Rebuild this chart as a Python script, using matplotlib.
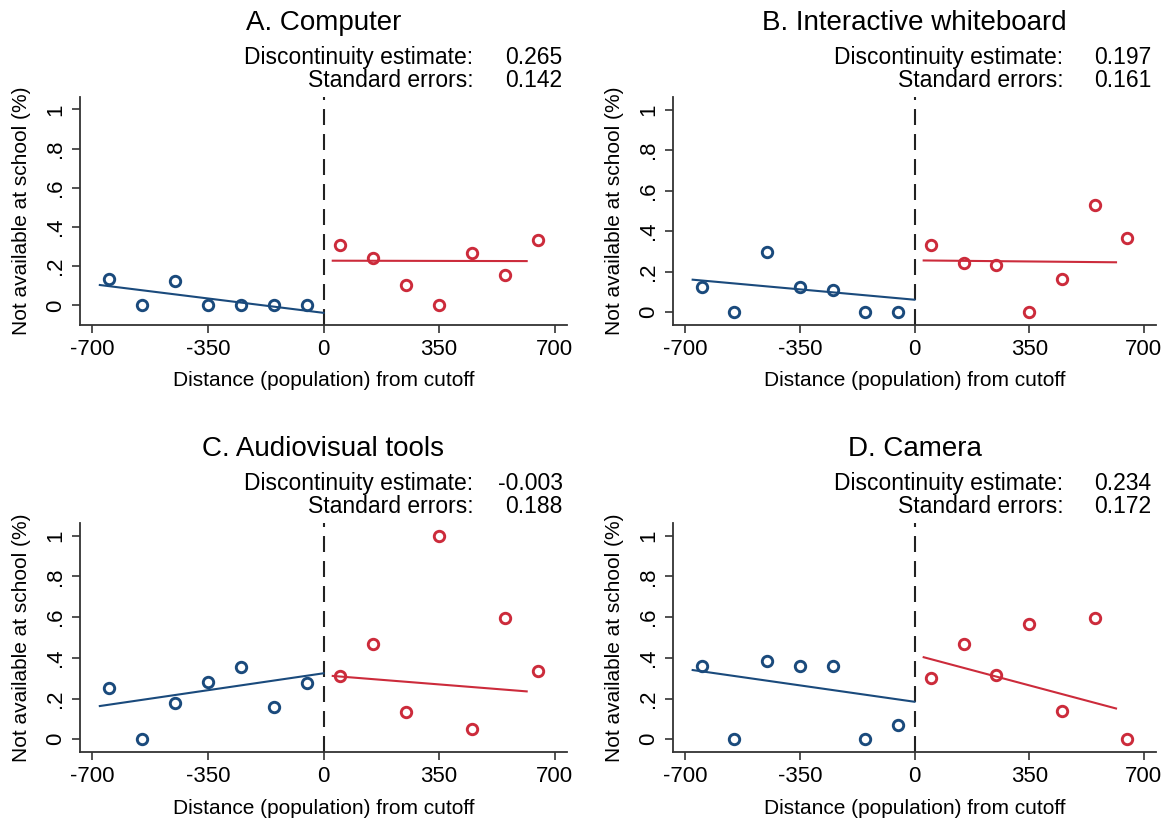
import matplotlib
matplotlib.use("Agg")
import matplotlib.pyplot as plt

plt.rcParams["font.family"] = ["Liberation Sans", "DejaVu Sans"]
plt.rcParams["lines.scale_dashes"] = False

# Bin centres (population distance from the cutoff)
x_left = [-650, -550, -450, -350, -250, -150, -50]
x_right = [50, 150, 250, 350, 450, 550, 650]

panels = ["A. Computer", "B. Interactive whiteboard", "C. Audiovisual tools", "D. Camera"]
estimates = ["0.265", "0.197", "-0.003", "0.234"]
std_errors = ["0.142", "0.161", "0.188", "0.172"]

# Binned means, left and right of the cutoff
y_left = [
    [0.133, 0.0, 0.125, 0.0, 0.0, 0.0, 0.0],
    [0.123, 0.0, 0.296, 0.123, 0.107, 0.0, 0.0],
    [0.253, 0.0, 0.179, 0.281, 0.354, 0.156, 0.275],
    [0.360, 0.0, 0.382, 0.360, 0.360, 0.0, 0.069],
]
y_right = [
    [0.307, 0.244, 0.104, 0.0, 0.266, 0.155, 0.333],
    [0.329, 0.242, 0.235, 0.0, 0.164, 0.531, 0.367],
    [0.309, 0.467, 0.132, 1.0, 0.048, 0.595, 0.336],
    [0.303, 0.467, 0.316, 0.564, 0.140, 0.595, 0.0],
]

# Linear fits on each side: support and fitted values at its ends
fit_x_left = [-677, 0]
fit_x_right = [28, 615]
fit_left = [
    [0.104, -0.038],
    [0.160, 0.061],
    [0.163, 0.324],
    [0.340, 0.184],
]
fit_right = [
    [0.228, 0.226],
    [0.255, 0.246],
    [0.311, 0.235],
    [0.403, 0.151],
]

y_bottoms = [-0.100, -0.064, -0.063, -0.063]

xticks = [-700, -350, 0, 350, 700]
xtick_labels = ["-700", "-350", "0", "350", "700"]
yticks = [0, 0.2, 0.4, 0.6, 0.8, 1.0]
ytick_labels = ["0", ".2", ".4", ".6", ".8", "1"]

BLUE = "#1a4a7c"
RED = "#cc2b3b"
AXIS = "#333333"

W, H = 1169, 823
fig = plt.figure(figsize=(W / 100, H / 100), dpi=100)

# axes boxes in pixels: (left, top, right, bottom)
boxes = [
    (80, 97, 567, 325),
    (673, 97, 1156, 325),
    (80, 523, 567, 752),
    (673, 523, 1156, 752),
]

for i, (l, t, r, b) in enumerate(boxes):
    ax = fig.add_axes([l / W, 1 - b / H, (r - l) / W, (b - t) / H])
    ax.set_xlim(-737, 737)
    ax.set_ylim(y_bottoms[i], 1.063)

    ax.axvline(0, color="#222222", lw=1.5, dashes=(11.5, 6.5), zorder=1)

    ax.plot(fit_x_left, fit_left[i], color=BLUE, lw=1.5, zorder=2)
    ax.plot(fit_x_right, fit_right[i], color=RED, lw=1.5, zorder=2)

    ax.plot(x_left, y_left[i], linestyle="none", marker="o", ms=7.5, mew=2.1,
            mfc="none", mec=BLUE, zorder=3)
    ax.plot(x_right, y_right[i], linestyle="none", marker="o", ms=7.5, mew=2.1,
            mfc="none", mec=RED, zorder=3)

    for side in ("top", "right"):
        ax.spines[side].set_visible(False)
    for side in ("left", "bottom"):
        ax.spines[side].set_color(AXIS)
        ax.spines[side].set_linewidth(1.3)

    ax.set_xticks(xticks)
    ax.set_xticklabels(xtick_labels, fontsize=16)
    ax.set_yticks(yticks)
    ax.set_yticklabels(ytick_labels, fontsize=16, rotation=90, va="center")
    ax.tick_params(axis="both", direction="out", length=6, width=1.2, color=AXIS)
    ax.tick_params(axis="x", pad=4)
    ax.tick_params(axis="y", pad=4)

    ax.set_xlabel("Distance (population) from cutoff", fontsize=15)
    ax.xaxis.set_label_coords(0.5, -0.245)
    ax.xaxis.label.set_verticalalignment("center")
    ax.set_ylabel("Not available at school (%)", fontsize=15)
    ax.yaxis.set_label_coords(-0.121, 0.5)
    ax.yaxis.label.set_verticalalignment("center")

    ax.text(0.5, 1.325, panels[i], transform=ax.transAxes, ha="center",
            va="center", fontsize=20)
    ax.text(0.808, 1.172, "Discontinuity estimate:", transform=ax.transAxes,
            ha="right", va="center", fontsize=16.5)
    ax.text(0.991, 1.172, estimates[i], transform=ax.transAxes,
            ha="right", va="center", fontsize=16.5)
    ax.text(0.808, 1.072, "Standard errors:", transform=ax.transAxes,
            ha="right", va="center", fontsize=16.5)
    ax.text(0.991, 1.072, std_errors[i], transform=ax.transAxes,
            ha="right", va="center", fontsize=16.5)

fig.savefig("out.png", dpi=100, facecolor="white")
